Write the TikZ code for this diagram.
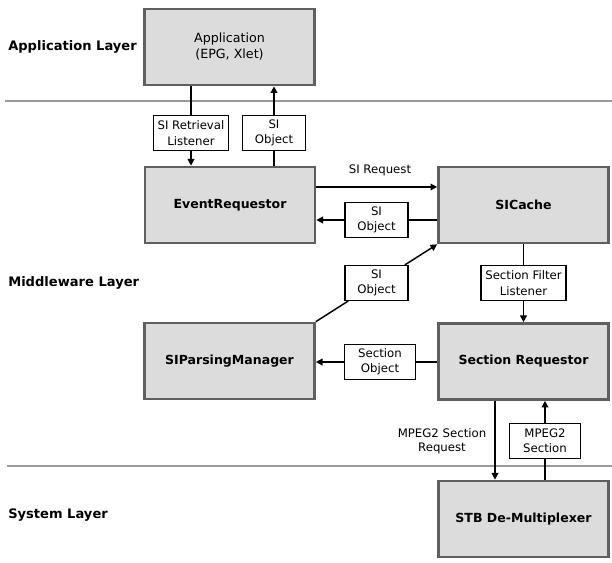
\documentclass[tikz,border=0pt]{standalone}
\usepackage{fontspec}
\setmainfont{DejaVu Sans}
\usepackage{xcolor}
\usetikzlibrary{calc, arrows.meta, positioning}

\definecolor{boxgray}{HTML}{DCDCDC}
\definecolor{boxedge}{HTML}{5F5F5F}
\definecolor{layerline}{HTML}{9A9A9A}

\begin{document}
\begin{tikzpicture}[x=0.75pt, y=-0.75pt, >={Triangle[length=5pt, width=5pt]}]
		\tikzstyle{block} = [draw=boxedge, fill=boxgray, line width=2pt, minimum width=127.5pt, minimum height=57pt, inner sep=0pt, align=center, font=\fontsize{9.4}{11}\selectfont\bfseries]
		\tikzstyle{appblock} = [block, font=\fontsize{9.5}{12}\selectfont]
		\tikzstyle{tag} = [draw=black, fill=white, line width=1.1pt, minimum height=26pt, inner sep=1pt, align=center, font=\fontsize{8.8}{11.5}\selectfont]
		\tikzstyle{layer} = [anchor=west, inner sep=0pt, font=\fontsize{9.8}{11}\selectfont\bfseries]
		\tikzstyle{invis} = [draw=none, inner sep=0pt, align=center, font=\fontsize{8.8}{10.5}\selectfont]
		\tikzstyle{arrow} = [line width=1.1pt, ->]
		\tikzstyle{plain} = [line width=1.1pt]
		\tikzstyle{divider} = [draw=layerline, line width=2.2pt]

		\useasboundingbox (0,0) rectangle (612,563);

		% layers
		\draw[divider] (5,101) -- (612,101);
		\draw[divider] (7,466) -- (612,466);
		\node[layer]	at (8,47)		(appl)	{Application Layer};
		\node[layer]	at (8,283)		(midl)	{Middleware Layer};
		\node[layer]	at (8,515)		(sysl)	{System Layer};

		% components
		\node[appblock]	at (229.5,47)	(app)		{Application\\(EPG, Xlet)};
		\node[block]	at (230,205)	(evreq)		{EventRequestor};
		\node[block]	at (523.5,205)	(sicache)	{SICache};
		\node[block]	at (229.5,361)	(parser)	{SIParsingManager};
		\node[block]	at (523.5,361.5)	(secreq)	{Section Requestor};
		\node[block]	at (523.5,519)	(stb)		{STB De-Multiplexer};

		% messages
		\node[tag, minimum width=56.5pt]	at (191,133)	(retr)		{SI Retrieval\\Listener};
		\node[tag, minimum width=47.5pt]	at (274,133)	(objup)		{SI\\Object};
		\node[tag, minimum width=47.5pt]	at (376.5,220)	(objmid)	{SI\\Object};
		\node[tag, minimum width=47.5pt]	at (376.5,283)	(objdiag)	{SI\\Object};
		\node[tag, minimum width=64pt]		at (523.5,283)	(filter)	{Section Filter\\Listener};
		\node[tag, minimum width=53pt]		at (380,362)	(secobj)	{Section\\Object};
		\node[tag, minimum width=53pt]		at (545,441)	(mpeg)		{MPEG2\\Section};
		\node[invis]	at (380,170)	(sireq)		{SI Request};
		\node[invis]	at (442,441)	(mpegreq)	{MPEG2 Section\\Request};
		\coordinate (drop) at (495,441);

		\draw[plain] (app.south -| retr) -- (retr.north);
		\draw[arrow] (retr.south) -- (evreq.north -| retr);
		\draw[plain] (evreq.north -| objup) -- (objup.south);
		\draw[arrow] (objup.north) -- (app.south -| objup);
		\draw[arrow] ([yshift=13.5pt]evreq.east) -- ([yshift=13.5pt]sicache.west);
		\draw[plain] (sicache.west |- objmid) -- (objmid.east);
		\draw[arrow] (objmid.west) -- (evreq.east |- objmid);
		\draw[plain] (parser.north east) -- (objdiag);
		\draw[arrow] (objdiag) -- (sicache.south west);
		\draw[plain] (sicache.south) -- (filter.north);
		\draw[arrow] (filter.south) -- (secreq.north);
		\draw[plain] (secreq.west |- secobj) -- (secobj.east);
		\draw[arrow] (secobj.west) -- (parser.east |- secobj);
		\draw[arrow] (secreq.south -| drop) -- (stb.north -| drop);
		\draw[plain] (stb.north -| mpeg) -- (mpeg.south);
		\draw[arrow] (mpeg.north) -- (secreq.south -| mpeg);
	\end{tikzpicture}
\end{document}
